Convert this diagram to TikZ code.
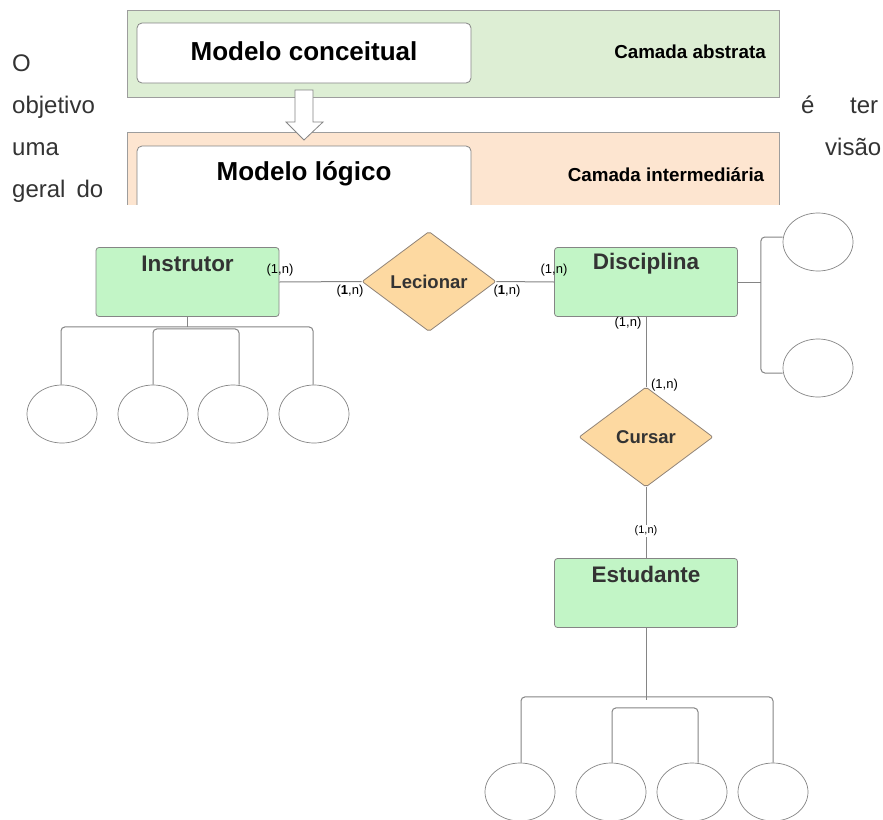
\documentclass[tikz,border=0pt]{standalone}
\usepackage{fontspec}
\setmainfont{Liberation Sans}
\usetikzlibrary{shapes.geometric}
\definecolor{bandgreen}{HTML}{DDEED4}
\definecolor{bandpeach}{HTML}{FDE5D0}
\definecolor{entgreen}{HTML}{C2F5C6}
\definecolor{relpeach}{HTML}{FDD9A1}
\definecolor{ink}{HTML}{333333}
\definecolor{edge}{HTML}{858585}
\newcommand{\fs}[1]{\fontsize{#1}{#1}\selectfont}
\tikzset{
  bodytext/.style={font=\fs{24}, text=ink, inner sep=0, anchor=base west},
  band/.style={draw=edge!80, line width=0.8pt},
  modelbox/.style={draw=edge, fill=white, rounded corners=5, line width=0.8pt},
  modeltitle/.style={font=\fs{26}\bfseries, text=black, inner sep=0},
  layertitle/.style={font=\fs{18.8}\bfseries, text=black, inner sep=0},
  entity/.style={draw=edge, fill=entgreen, rounded corners=3, line width=0.8pt,
    minimum width=183pt, minimum height=69pt, inner sep=0},
  etitle/.style={font=\fs{22.5}\bfseries, text=ink, inner sep=0},
  relation/.style={diamond, draw=edge!90!orange, fill=relpeach, rounded corners=2,
    line width=0.8pt, minimum width=134pt, minimum height=100pt, inner sep=0,
    font=\fs{18.5}\bfseries, text=ink},
  attr/.style={ellipse, draw=edge, line width=0.7pt, fill=white,
    minimum width=70pt, minimum height=58pt, inner sep=0},
  conn/.style={draw=edge, line width=1pt},
  card/.style={font=\fs{13}, text=black, inner sep=0.5pt},
}
\begin{document}
\begin{tikzpicture}[x=1pt,y=-1pt]
\useasboundingbox (0,0) rectangle (883,819);
\fill[white] (0,0) rectangle (883,819);

% layered models
\draw[band, fill=bandgreen] (127,10) rectangle (779,97);
\draw[modelbox] (137,23) rectangle (471,83);
\node[modeltitle] (mc) at (304,51) {Modelo conceitual};
\node[layertitle] (la) at (690,52) {Camada abstrata};

\draw[band, fill=bandpeach] (127,132) rectangle (779,230);
\draw[modelbox] (137,146) rectangle (471,240);
\node[modeltitle] (ml) at (304,174) {Modelo lógico};
\node[layertitle] (li) at (666,175) {Camada intermediária};

\draw[draw=edge, fill=white, line width=0.8pt]
  (295,90) -- (313,90) -- (313,122) -- (323,122) -- (304,140) -- (286,122) -- (295,122) -- cycle;

% justified paragraph text at the sides
\node[bodytext] (t1) at (12,71) {O};
\node[bodytext] (t2) at (12,113) {objetivo};
\node[bodytext] (t3) at (801,113) {é};
\node[bodytext] (t4) at (850,113) {ter};
\node[bodytext] (t5) at (12,155) {uma};
\node[bodytext] (t6) at (825,155) {visão};
\node[bodytext] (t7) at (12,197) {geral\hspace{11pt}do};

% ER diagram
\fill[white] (0,205) rectangle (883,819);

\node[entity] (inst) at (187.5,282) {};
\path (inst.north) ++(0,17) node[etitle] {Instrutor};
\node[entity] (disc) at (646,282) {};
\path (disc.north) ++(0,17) node[etitle] {Disciplina};
\node[entity] (est) at (646,593) {};
\path (est.north) ++(0,16) node[etitle] {Estudante};

\node[relation] (lec) at (429,281.5) {Lecionar};
\node[relation] (cur) at (646,437) {Cursar};

\draw[conn] (inst.east) -- (lec.west);
\draw[conn] (lec.east) -- (disc.west);
\draw[conn] (disc.south) -- (cur.north);
\draw[conn] (cur.south) -- (est.north);

\node[card] at (280,270) {(1,n)};
\node[card] at (350,291) {(\textbf{1},n)};
\node[card] at (507,291) {(\textbf{1},n)};
\node[card] at (554,270) {(1,n)};
\node[card] at (628,323) {(1,n)};
\node[card] at (664.5,385) {(1,n)};
\node[card, fill=white, font=\fs{11}] at (646,531) {(1,n)};

% attributes of Instrutor
\node[attr] (ia1) at (62,414) {};
\node[attr] (ia2) at (153,414) {};
\node[attr] (ia3) at (233,414) {};
\node[attr] (ia4) at (314,414) {};
\coordinate (ij) at ([yshift=-10pt]inst.south);
\draw[conn] (inst.south) -- (ij);
\draw[conn, rounded corners=4] ([xshift=-1pt]ia1.north) |- (ij) -| ([xshift=-1pt]ia4.north);
\draw[conn, rounded corners=4] (ia2.north) |- ([yshift=-2pt]ij) -| ([xshift=6pt]ia3.north);

% attributes of Disciplina
\node[attr] (da1) at (818,242) {};
\node[attr] (da2) at (818,368) {};
\coordinate (dj) at ([xshift=23pt]disc.east);
\draw[conn] (disc.east) -- (dj);
\draw[conn, rounded corners=4] ([yshift=5pt]da1.west) -| (dj) |- ([yshift=-5pt]da2.west);

% attributes of Estudante
\node[attr] (ea1) at (520,792) {};
\node[attr] (ea2) at (611,792) {};
\node[attr] (ea3) at (692,792) {};
\node[attr] (ea4) at (773,792) {};
\coordinate (ej) at ([yshift=-72pt]est.south);
\draw[conn] (est.south) -- (ej);
\draw[conn, rounded corners=4] ([xshift=1pt]ea1.north) |- ([yshift=3pt]ej) -| (ea4.north);
\draw[conn, rounded corners=4] ([xshift=1pt]ea2.north) |- ([yshift=-8pt]ej) -| ([xshift=6pt]ea3.north);
\end{tikzpicture}
\end{document}
